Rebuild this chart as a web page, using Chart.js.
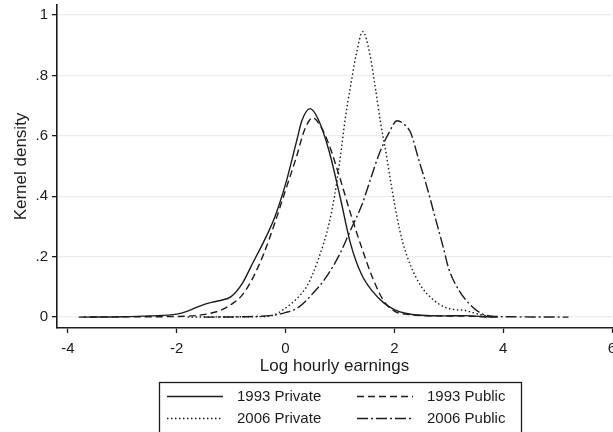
<!DOCTYPE html>
<html lang="en">
<head>
  <meta charset="UTF-8">
  <title>Kernel density of log hourly earnings</title>
  <script src="https://cdn.jsdelivr.net/npm/chart.js"></script>
  <style>
    html, body {
      margin: 0;
      padding: 0;
      background: #fff;
      overflow: hidden;
    }
    #wrap {
      position: absolute;
      left: 0;
      top: 0;
    }
  </style>
</head>
<body>
<div id="wrap">
  <canvas id="densityChart" width="640" height="432"></canvas>
</div>

<script>
  // values
  const seriesLabels = ['1993 Private', '1993 Public', '2006 Private', '2006 Public'];
  const xTicks = [-4, -2, 0, 2, 4, 6];
  const yTicks = [0, 0.2, 0.4, 0.6, 0.8, 1];

  const private93X = [-3.7, -3.0, -2.5, -2.0, -1.8, -1.6, -1.4, -1.2, -1.0, -0.8, -0.6, -0.4, -0.2, 0, 0.2, 0.3, 0.45, 0.6, 0.8, 1.0, 1.2, 1.4, 1.6, 1.8, 2.0, 2.2, 2.5, 2.9, 3.3, 3.6, 3.9];
  const private93Y = [0, 0.001, 0.004, 0.01, 0.02, 0.035, 0.047, 0.055, 0.068, 0.11, 0.18, 0.25, 0.33, 0.44, 0.58, 0.65, 0.69, 0.655, 0.55, 0.40, 0.24, 0.14, 0.085, 0.048, 0.025, 0.013, 0.006, 0.004, 0.005, 0.002, 0];

  const public93X = [-3.8, -3.0, -2.0, -1.6, -1.4, -1.2, -1.0, -0.8, -0.6, -0.4, -0.2, 0, 0.2, 0.35, 0.5, 0.65, 0.8, 1.0, 1.2, 1.4, 1.6, 1.8, 2.0, 2.3, 2.8, 3.4, 3.8];
  const public93Y = [0, 0.001, 0.002, 0.006, 0.012, 0.022, 0.042, 0.072, 0.13, 0.21, 0.31, 0.42, 0.53, 0.62, 0.66, 0.63, 0.57, 0.46, 0.34, 0.23, 0.13, 0.055, 0.02, 0.008, 0.004, 0.003, 0];

  const private06X = [-1.8, -1.0, -0.4, -0.2, 0, 0.2, 0.4, 0.6, 0.8, 0.9, 1.0, 1.1, 1.2, 1.3, 1.42, 1.55, 1.65, 1.75, 1.85, 1.95, 2.05, 2.15, 2.3, 2.5, 2.7, 2.9, 3.1, 3.3, 3.5, 3.8];
  const private06Y = [0, 0.001, 0.002, 0.008, 0.03, 0.06, 0.105, 0.19, 0.31, 0.4, 0.52, 0.66, 0.77, 0.87, 0.945, 0.87, 0.76, 0.64, 0.54, 0.43, 0.33, 0.25, 0.17, 0.1, 0.06, 0.035, 0.025, 0.022, 0.012, 0];

  const public06X = [-1.5, -0.8, -0.2, 0, 0.25, 0.5, 0.75, 1.0, 1.2, 1.4, 1.55, 1.72, 1.9, 2.05, 2.2, 2.3, 2.45, 2.6, 2.75, 2.9, 3.0, 3.2, 3.4, 3.6, 3.8, 4.2, 5.2];
  const public06Y = [0, 0.001, 0.007, 0.015, 0.034, 0.078, 0.133, 0.21, 0.29, 0.37, 0.45, 0.54, 0.61, 0.65, 0.635, 0.61, 0.52, 0.43, 0.33, 0.23, 0.16, 0.085, 0.04, 0.012, 0.003, 0.001, 0];

  const FONT = '"Liberation Sans", Arial, sans-serif';
  const INK = '#1c1c1c';

  const toPoints = (xs, ys) => xs.map((x, i) => ({ x: x, y: ys[i] }));

  const lineSet = (label, xs, ys, dash) => ({
    label: label,
    data: toPoints(xs, ys),
    borderColor: INK,
    borderWidth: 1.4,
    borderDash: dash,
    pointRadius: 0,
    fill: false,
    cubicInterpolationMode: 'monotone'
  });

  // stata-style boxed legend under the axis title
  const boxLegend = {
    id: 'boxLegend',
    afterDraw(chart) {
      const ctx = chart.ctx;
      const sets = chart.data.datasets;
      ctx.save();
      ctx.strokeStyle = INK;
      ctx.lineWidth = 1.3;
      ctx.setLineDash([]);
      ctx.strokeRect(159.5, 382.5, 362, 60);

      const cols = [{ x: 167, text: 237 }, { x: 357, text: 427 }];
      const rows = [396, 418];
      ctx.font = '15px ' + FONT;
      ctx.fillStyle = INK;
      ctx.textBaseline = 'middle';
      sets.forEach((ds, k) => {
        const c = cols[k % 2];
        const y = rows[Math.floor(k / 2)];
        ctx.beginPath();
        ctx.setLineDash(ds.borderDash || []);
        ctx.lineWidth = 1.4;
        ctx.moveTo(c.x, y + 0.5);
        ctx.lineTo(c.x + 56, y + 0.5);
        ctx.stroke();
        ctx.setLineDash([]);
        ctx.fillText(ds.label, c.text, y + 1);
      });
      ctx.restore();
    }
  };

  const fmtY = v => v === 0 ? '0' : v === 1 ? '1' : ('' + v).replace(/^0/, '');

  window.onload = () => {
    new Chart(document.getElementById('densityChart'), {
      type: 'line',
      data: {
        datasets: [
          lineSet(seriesLabels[0], private93X, private93Y, []),
          lineSet(seriesLabels[1], public93X, public93Y, [7, 4]),
          lineSet(seriesLabels[2], private06X, private06Y, [1.5, 2.5]),
          lineSet(seriesLabels[3], public06X, public06Y, [11, 3, 2, 3])
        ]
      },
      options: {
        responsive: false,
        devicePixelRatio: 1,
        animation: false,
        layout: { padding: { left: 0, top: 5, right: 28, bottom: 55 } },
        plugins: {
          legend: { display: false },
          tooltip: { enabled: false }
        },
        scales: {
          x: {
            type: 'linear',
            min: -4.2,
            max: 6,
            afterBuildTicks: s => { s.ticks = xTicks.map(v => ({ value: v })); },
            afterFit: s => { s.height = 49; s.paddingLeft = 0; s.paddingRight = 0; },
            ticks: {
              color: INK,
              font: { family: FONT, size: 15 },
              padding: 7,
              maxRotation: 0
            },
            grid: {
              drawOnChartArea: false,
              drawTicks: true,
              tickLength: 5,
              tickColor: INK,
              tickWidth: 1.3
            },
            border: { color: INK, width: 1.6 },
            title: {
              display: true,
              text: 'Log hourly earnings',
              color: INK,
              font: { family: FONT, size: 17 },
              padding: { top: 0, bottom: 0 }
            }
          },
          y: {
            type: 'linear',
            min: -0.036,
            max: 1.033,
            afterBuildTicks: s => { s.ticks = yTicks.map(v => ({ value: v })); },
            afterFit: s => { s.width = 57; s.paddingTop = 0; s.paddingBottom = 0; },
            ticks: {
              color: INK,
              font: { family: FONT, size: 15 },
              padding: 4,
              callback: v => fmtY(v)
            },
            grid: {
              color: '#ececec',
              lineWidth: 1.3,
              drawTicks: true,
              tickLength: 5,
              tickColor: INK,
              tickWidth: 1.3
            },
            border: { color: INK, width: 1.6 },
            title: {
              display: true,
              text: 'Kernel density',
              color: INK,
              font: { family: FONT, size: 17 },
              padding: { top: 11, bottom: 0 }
            }
          }
        }
      },
      plugins: [boxLegend]
    });
  };
</script>
</body>
</html>
